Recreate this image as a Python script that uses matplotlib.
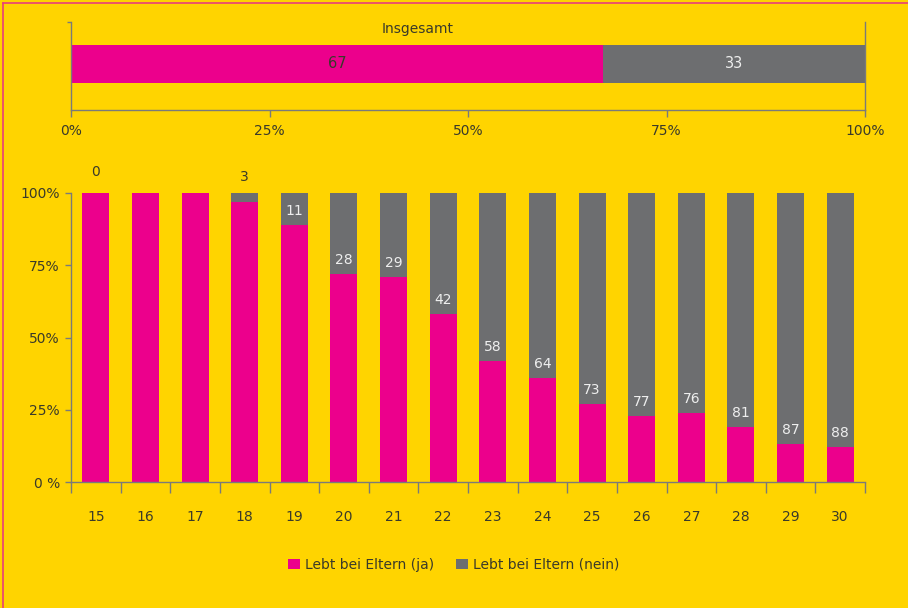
import matplotlib.pyplot as plt
from matplotlib.lines import Line2D
from matplotlib.patches import Patch
import numpy as np

# data
ages = ['15', '16', '17', '18', '19', '20', '21', '22', '23', '24', '25', '26', '27', '28', '29', '30']
nein = [0, 0, 0, 3, 11, 28, 29, 42, 58, 64, 73, 77, 76, 81, 87, 88]
nein_labels = ['0', '', '', '3', '11', '28', '29', '42', '58', '64', '73', '77', '76', '81', '87', '88']
total_ja = 67
total_nein = 33
pct_ticks = [0, 25, 50, 75, 100]
top_labels = ['0%', '25%', '50%', '75%', '100%']
left_labels = ['0 %', '25%', '50%', '75%', '100%']

PINK = '#EC008C'
GRAY = '#6D6E70'
YELLOW = '#FFD400'
AXIS = '#7a7a7a'
TEXT = '#3a3a2a'

plt.rcParams['font.family'] = ['DejaVu Sans']
plt.rcParams['font.size'] = 10

W, H = 908, 608
fig = plt.figure(figsize=(W / 100, H / 100), dpi=100, facecolor=YELLOW)

def ax_rect(x0, y0, x1, y1):
    return [x0 / W, 1 - y1 / H, (x1 - x0) / W, (y1 - y0) / H]

# --- top: Insgesamt ---
ax1 = fig.add_axes(ax_rect(71, 22, 865, 110))
ax1.set_facecolor(YELLOW)
ax1.barh(0.523, total_ja, height=0.43, color=PINK, left=0)
ax1.barh(0.523, total_nein, height=0.43, color=GRAY, left=total_ja)
ax1.text(total_ja / 2, 0.523, str(total_ja), ha='center', va='center', color=TEXT, fontsize=10.5)
ax1.text(total_ja + total_nein / 2, 0.523, str(total_nein), ha='center', va='center', color='#eeeeee', fontsize=10.5)
ax1.text(43.7, 0.92, 'Insgesamt', ha='center', va='center', color=TEXT, fontsize=10)
ax1.set_xlim(0, 100)
ax1.set_ylim(0, 1)
ax1.set_xticks(pct_ticks)
ax1.set_xticklabels(top_labels)
ax1.set_yticks([1])
ax1.set_yticklabels([''])
ax1.tick_params(axis='x', length=5, width=1, color=AXIS, pad=5, labelcolor=TEXT, labelsize=10)
ax1.tick_params(axis='y', length=3, width=1, color=AXIS)
ax1.spines['top'].set_visible(False)
for s in ['left', 'right', 'bottom']:
    ax1.spines[s].set_color(AXIS)
    ax1.spines[s].set_linewidth(1)

# --- bottom: by age ---
ax2 = fig.add_axes(ax_rect(71, 193, 865, 482))
ax2.set_facecolor(YELLOW)
x = np.arange(len(ages))
ja = [100 - v for v in nein]
ax2.bar(x, ja, width=0.545, color=PINK)
ax2.bar(x, nein, width=0.545, bottom=ja, color=GRAY)
for i, lab in enumerate(nein_labels):
    if not lab:
        continue
    if nein[i] <= 3:
        off = 21 if nein[i] == 0 else 16
        ax2.annotate(lab, (x[i], 100), xytext=(0, off), textcoords='offset pixels',
                     ha='center', va='center', color=TEXT, fontsize=10, annotation_clip=False)
    else:
        ax2.annotate(lab, (x[i], ja[i]), xytext=(0, 14), textcoords='offset pixels',
                     ha='center', va='center', color='#eeeeee', fontsize=10)
ax2.set_xlim(-0.5, len(ages) - 0.5)
ax2.set_ylim(0, 100)
ax2.set_xticks(x)
ax2.set_xticklabels(ages)
ax2.set_xticks(np.arange(len(ages) + 1) - 0.5, minor=True)
ax2.tick_params(axis='x', which='major', length=0, pad=20.5, labelcolor=TEXT, labelsize=10)
ax2.tick_params(axis='x', which='minor', length=8, width=1, color=AXIS)
ax2.set_yticks(pct_ticks)
ax2.set_yticklabels(left_labels)
ax2.tick_params(axis='y', length=4, width=1, color=AXIS, pad=4, labelcolor=TEXT, labelsize=10)
for s in ['top', 'right']:
    ax2.spines[s].set_visible(False)
for s in ['left', 'bottom']:
    ax2.spines[s].set_color(AXIS)
    ax2.spines[s].set_linewidth(1)

# legend
handles = [Patch(facecolor=PINK, edgecolor='none', label='Lebt bei Eltern (ja)'),
           Patch(facecolor=GRAY, edgecolor='none', label='Lebt bei Eltern (nein)')]
fig.legend(handles=handles, loc='center', bbox_to_anchor=(0.5, 1 - 565 / H), ncol=2,
           frameon=False, fontsize=10, handlelength=0.8, handleheight=0.8,
           handletextpad=0.4, columnspacing=1.6, labelcolor=TEXT)

# frame lines (left + top)
fig.add_artist(Line2D([3 / W, 3 / W], [0, 1 - 3 / H], color='#E8407A', lw=1.2))
fig.add_artist(Line2D([3 / W, 1], [1 - 3 / H, 1 - 3 / H], color='#E8407A', lw=1.2))

fig.savefig('out.png', dpi=100, facecolor=YELLOW)
